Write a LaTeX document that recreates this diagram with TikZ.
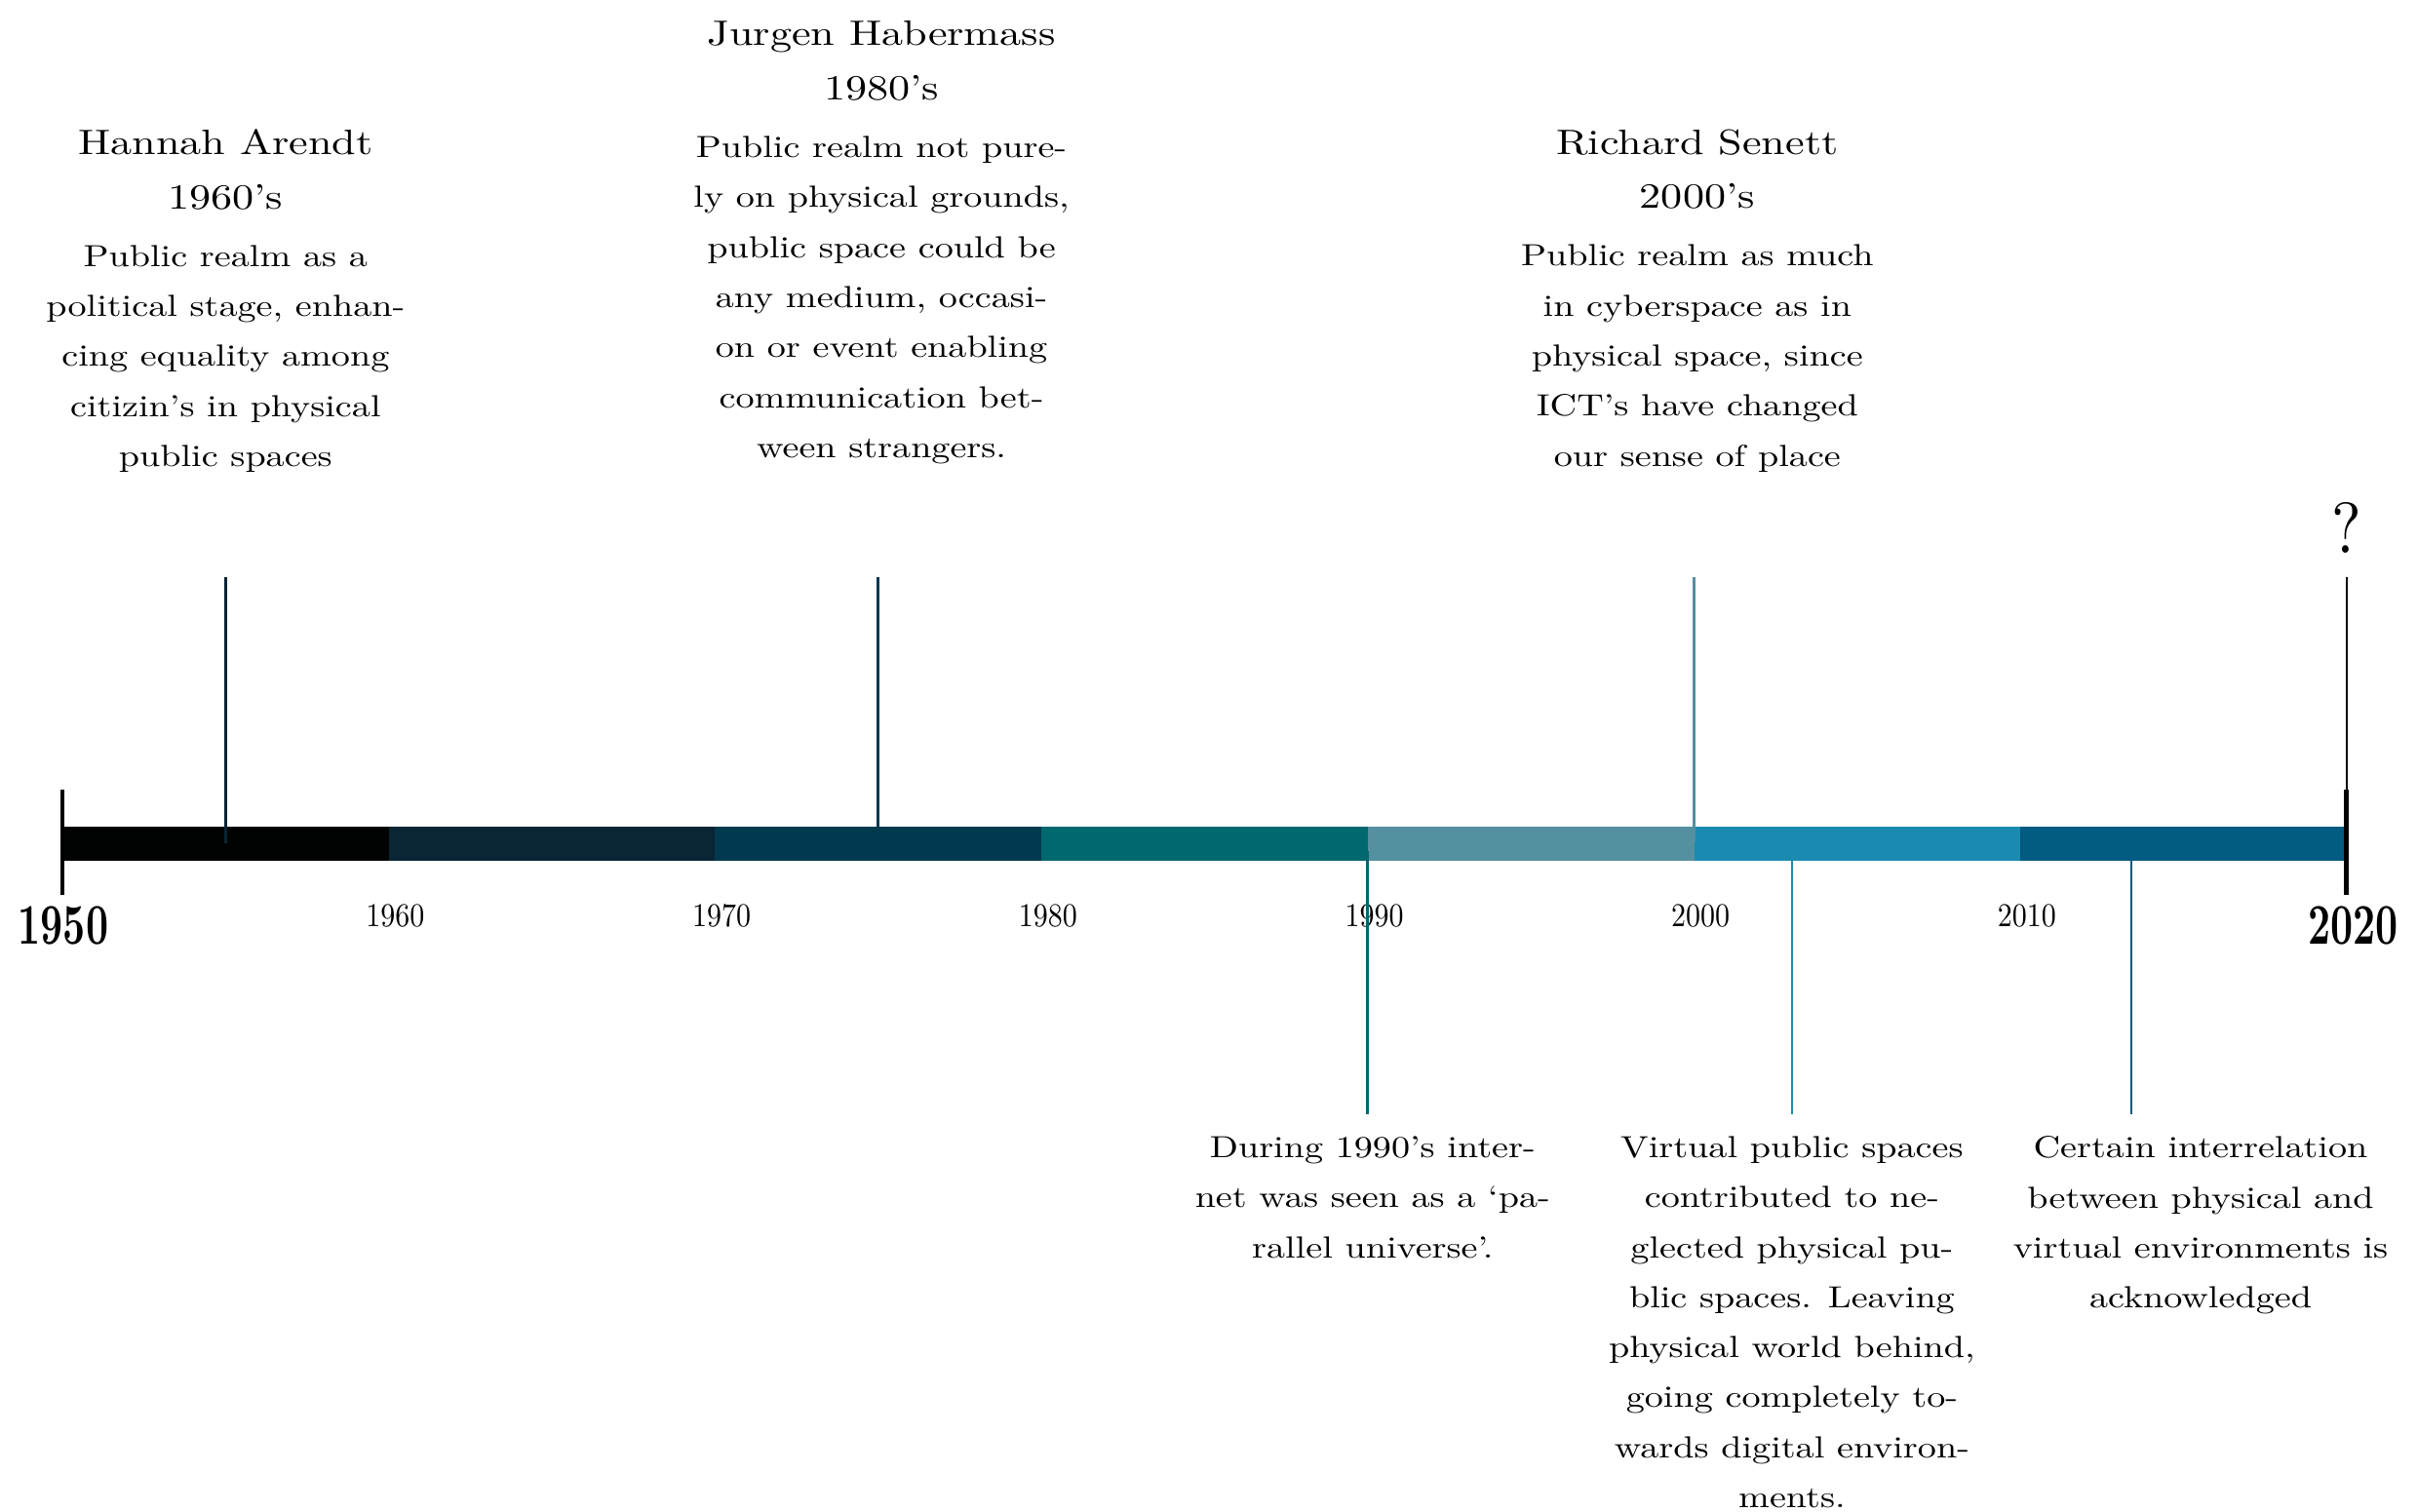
\documentclass[tikz,border=0pt]{standalone}
\usepackage{fontspec}
\setmainfont{lmroman10-regular.otf}[BoldFont=lmroman10-bold.otf, FakeStretch=1.22]
\newfontfamily\tickfont{lmroman10-regular.otf}[FakeStretch=0.88]
\newfontfamily\yearfont{lmroman10-bold.otf}[FakeStretch=0.68]
\definecolor{dec50}{RGB}{1,3,3}
\definecolor{dec60}{HTML}{0A2535}
\definecolor{dec70}{HTML}{01394E}
\definecolor{dec80}{HTML}{02686F}
\definecolor{dec90}{HTML}{5590A0}
\definecolor{dec00}{HTML}{1A8AB0}
\definecolor{dec10}{HTML}{025B82}
\usetikzlibrary{positioning}

\begin{document}
\begin{tikzpicture}[x=0.3347cm, y=1cm,
		era/.style={font=\fontsize{10.3}{15.9}\selectfont, align=center, inner sep=0pt, anchor=north},
		note/.style={font=\fontsize{8.9}{14.6}\selectfont, align=center, inner sep=0pt, anchor=north},
		decade/.style={font=\tickfont\fontsize{9.7}{11}\selectfont, inner sep=0pt, anchor=base},
		endyear/.style={font=\yearfont\fontsize{16.8}{18}\selectfont, inner sep=0pt, anchor=base},
		stem/.style={line width=0.75pt},
		endtick/.style={line width=1.4pt}]
	
	\useasboundingbox (-1.912,8.655) rectangle (72.154,-6.855);
	
	% Bar
	\foreach \d/\c in {0/dec50, 10/dec60, 20/dec70, 30/dec80, 40/dec90, 50/dec00, 60/dec10}
	{
		\fill[\c] (\d,-0.175) rectangle ++(10,0.35);
	}
	\foreach \d/\y in {10/1960, 20/1970, 30/1980, 40/1990, 50/2000, 60/2010}
		\node[decade] (t\y) at (\d+0.2,-0.855) {\y};
	
	\node[endyear] (y1950) at (0.03,-1.035) {1950};
	\node[endyear] (y2020) at (70.2,-1.035) {2020};
	
	% Above the bar
	\node[era] (arendt) at (5,7.337) {Hannah Arendt\\1960’s};
	\node[note, below=10pt of arendt] (arendt-note) {Public realm as a\\political stage, enhan-\\cing equality among\\citizin’s in physical\\public spaces};
	
	\node[era] (habermas) at (25.1,8.447) {Jurgen Habermass\\1980’s};
	\node[note, below=10pt of habermas] (habermas-note) {Public realm not pure-\\ly on physical grounds,\\public space could be\\any medium, occasi-\\on or event enabling\\communication bet-\\ween strangers.};
	
	\node[era] (senett) at (50.1,7.337) {Richard Senett\\2000’s};
	\node[note, below=10pt of senett] (senett-note) {Public realm as much\\in cyberspace as in\\physical space, since\\ICT’s have changed\\our sense of place};
	
	\node[font=\tickfont\fontsize{21}{24}\selectfont, inner sep=0pt, anchor=base] (future) at (70,2.975) {?};
	
	\coordinate (arendt-top) at (5,2.73);
	\coordinate (arendt-bar) at (5,0);
	\coordinate (habermas-top) at (25,2.73);
	\coordinate (habermas-bar) at (25,0.175);
	\coordinate (senett-top) at (50,2.73);
	\coordinate (senett-bar) at (50,0.02);
	\coordinate (future-top) at (70,2.735);
	\coordinate (future-bar) at (70,0.5);
	
	\draw[stem, dec60] (arendt-top) -- (arendt-bar);
	\draw[stem, dec70] (habermas-top) -- (habermas-bar);
	\draw[stem, dec90] (senett-top) -- (senett-bar);
	\draw[line width=0.7pt] (future-top) -- (future-bar);
	
	% Below the bar
	\coordinate (web-bar) at (40,-0.075);
	\coordinate (web-end) at (40,-2.775);
	\coordinate (virtual-bar) at (53,-0.175);
	\coordinate (virtual-end) at (53,-2.775);
	\coordinate (hybrid-bar) at (63.4,-0.175);
	\coordinate (hybrid-end) at (63.4,-2.775);
	
	\draw[stem, dec80] (web-bar) -- (web-end);
	\draw[stem, dec00] (virtual-bar) -- (virtual-end);
	\draw[stem, dec10] (hybrid-bar) -- (hybrid-end);
	
	\node[note, below=0.22cm of web-end, xshift=0.05cm] (web-note) {During 1990’s inter-\\net was seen as a ‘pa-\\rallel universe’.};
	\node[note, below=0.22cm of virtual-end] (virtual-note) {Virtual public spaces\\contributed to ne-\\glected physical pu-\\blic spaces. Leaving\\physical world behind,\\going completely to-\\wards digital environ-\\ments.};
	\node[note, below=0.22cm of hybrid-end, xshift=0.71cm] (hybrid-note) {Certain interrelation\\between physical and\\virtual environments is\\acknowledged};
	
	% Ends
	\draw[endtick] (0,0.555) -- (0,-0.525);
	\draw[endtick] (70,0.555) -- (70,-0.525);
	
\end{tikzpicture}
\end{document}
